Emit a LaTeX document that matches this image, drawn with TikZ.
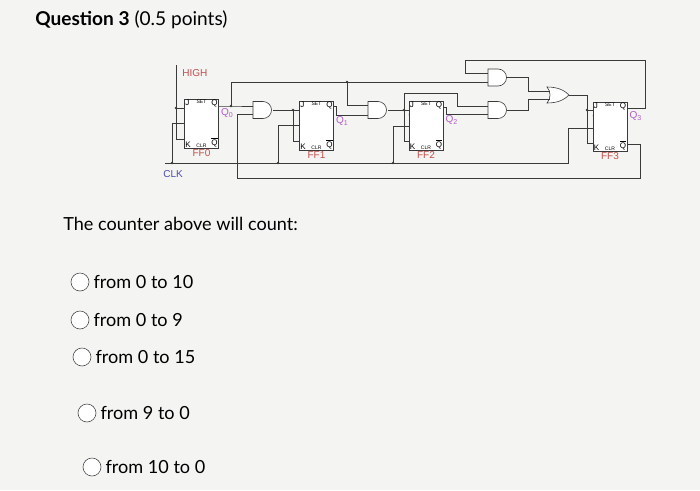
\documentclass[tikz,border=0pt]{standalone}
\usepackage{fontspec}
\setmainfont{Lato}
\newfontfamily\circfont{Liberation Sans}
\definecolor{paper}{HTML}{F4F4F2}
\definecolor{wire}{HTML}{3A3A3A}
\definecolor{ffred}{HTML}{C0504D}
\definecolor{qpink}{HTML}{B05CC8}
\tikzset{
  ff/.style={draw=wire, fill=white, minimum width=1.19cm, minimum height=1.715cm, inner sep=0pt},
  pin/.style={font=\circfont\fontsize{8}{8}\selectfont, inner sep=0.8pt},
  ffname/.style={font=\circfont\fontsize{10}{10}\selectfont, text=ffred, inner sep=0pt},
  qname/.style={font=\circfont\fontsize{10}{10}\selectfont, text=qpink, inner sep=0pt, anchor=north west},
  dot/.style={circle, fill=wire, inner sep=0pt, minimum size=2.8pt},
  opt/.style={font=\fontsize{18}{18}\selectfont, anchor=west, inner sep=0pt},
  radio/.style={circle, draw=black!70, fill=white, minimum size=0.63cm, inner sep=0pt}
}
\newcommand{\andg}[2]{\draw[wire, fill=white] (#1,#2-8.5) -- (#1+10,#2-8.5) arc (90:-90:0.2975cm) -- (#1,#2+8.5) -- cycle;}
\newcommand{\org}[2]{\draw[wire, fill=white] (#1,#2-8) .. controls (#1+12,#2-8) and (#1+18,#2-4) .. (#1+22,#2) .. controls (#1+18,#2+4) and (#1+12,#2+8) .. (#1,#2+8) .. controls (#1+4,#2+4) and (#1+4,#2-4) .. (#1,#2-8) -- cycle;}
\begin{document}
\begin{tikzpicture}[x=0.035cm, y=-0.035cm, line width=0.6pt]
  \fill[paper] (0,0) rectangle (700,490);
  \useasboundingbox (0,0) rectangle (700,490);

  \node[anchor=west, inner sep=0pt, font=\fontsize{19}{19}\selectfont] (title) at (35,20) {\textbf{Question 3} (0.5 points)};

  % flip-flops
  \foreach \n/\x/\y/\d in {0/201.5/123.5/9, 1/316.5/125.5/15, 2/426/125.5/14, 3/610/126.5/9} {
    \node[ff] (ff\n) at (\x,\y) {};
    \node[pin, anchor=north west] at (ff\n.north west) {J};
    \node[pin, anchor=north, font=\circfont\fontsize{5}{5}\selectfont] at (ff\n.north) {SET};
    \node[pin, anchor=north east] at (ff\n.north east) {Q};
    \node[pin, anchor=south west] at (ff\n.south west) {K};
    \node[pin, anchor=south, font=\circfont\fontsize{5}{5}\selectfont] at (ff\n.south) {CLR};
    \node[pin, anchor=south east] at (ff\n.south east) {$\overline{\mbox{Q}}$};
    \node[ffname, anchor=north] (lab\n) at ([yshift=-1pt]ff\n.south) {FF\n};
    \node[qname] (q\n) at ([xshift=2pt, yshift=-\d pt]ff\n.north east) {Q\raisebox{-2pt}{\fontsize{7}{7}\selectfont\n}};
    \draw[wire] ([yshift=-0.5cm]ff\n.north west) -- ++(0.2,-0.12) -- ++(-0.2,-0.12);
  }

  % inputs
  \node[anchor=west, inner sep=0pt, font=\circfont\fontsize{10}{10}\selectfont, text=ffred] (high) at (182,73) {HIGH};
  \node[anchor=west, inner sep=0pt, font=\circfont\fontsize{10}{10}\selectfont, text=blue!40!gray] (clk) at (163,174) {CLK};

  % gates
  \andg{253}{110}
  \andg{368}{110}
  \andg{488}{77.5}
  \andg{488}{110}
  \org{547}{95}

  \begin{scope}[wire]
    % HIGH to FF0
    \draw (176,65) -- (176,139) -- (185,139);
    \draw (176,108) -- (185,108);
    % clock
    \draw (165,163) -- (568,163) -- (568,128) -- (593,128);
    \draw (172,163) -- (172,123) -- (185,123);
    \draw (278,163) -- (278,125) -- (300,125);
    \draw (393,163) -- (393,126) -- (409,126);
    % Q0
    \draw (218,106) -- (231,106) -- (253,106);
    \draw (231,106) -- (231,82) -- (488,82);
    \draw (347,82) -- (347,105) -- (368,105);
    % Q3 bar back to FF1 gate
    \draw (627,144) -- (640,144) -- (640,178) -- (237,178) -- (237,114) -- (253,114);
    % FF1
    \draw (273,110) -- (300,110);
    \draw (293,110) -- (293,141) -- (300,141);
    \draw (333,106) -- (336,106) -- (336,115) -- (368,115);
    % FF2
    \draw (388,110) -- (409,110);
    \draw (404,110) -- (404,141) -- (409,141);
    \draw (404,110) -- (404,93) -- (457,93) -- (457,106) -- (488,106);
    \draw (443,107) -- (446,107) -- (446,114) -- (488,114);
    % FF3
    \draw (627,108) -- (645,108) -- (645,60) -- (465,60) -- (465,73) -- (488,73);
    \draw (507,77.5) -- (528,77.5) -- (528,91) -- (550,91);
    \draw (507,110) -- (528,110) -- (528,99) -- (550,99);
    \draw (569,95) -- (587,95) -- (587,143) -- (593,143);
    \draw (587,110) -- (593,110);
  \end{scope}
  \foreach \p in {(176,108), (172,163), (278,163), (393,163), (231,106), (347,82), (293,110), (404,110), (587,110)}
    \node[dot] at \p {};

  % question
  \node[opt] (ask) at (63,224) {The counter above will count:};
  \foreach \i/\x/\y/\t in {a/80/282/from 0 to 10, b/80/320/from 0 to 9, c/82/357/from 0 to 15, d/87/413/from 9 to 0, e/92/467/from 10 to 0} {
    \node[radio] (r\i) at (\x,\y) {};
    \node[opt] (t\i) at ([xshift=4pt]r\i.east) {\t};
  }
\end{tikzpicture}
\end{document}
